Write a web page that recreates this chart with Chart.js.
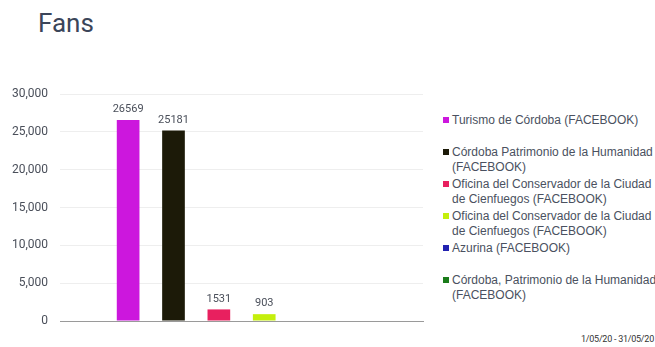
<!DOCTYPE html>
<html>
<head>
<meta charset="utf-8">
<script src="https://cdn.jsdelivr.net/npm/chart.js@4"></script>
<style>
  html, body { margin: 0; padding: 0; background: #fff; overflow: hidden; }
  body { width: 655px; height: 347px; position: relative; font-family: Roboto, sans-serif; }
  #title { position: absolute; left: 38px; top: 8px; font-size: 26px; color: #3b4559; }
  #wrap { position: absolute; left: 0; top: 0; width: 430px; height: 347px; }
  #legend { position: absolute; left: 443px; top: 113px; width: 215px; font-family: "Liberation Sans", Arial, sans-serif; font-size: 12px; color: #4a5160; }
  .item { position: relative; height: 32px; padding-left: 9px; line-height: 15px; white-space: nowrap; }
  .item i { position: absolute; left: 0; top: 4px; width: 6px; height: 6px; }
  #range { position: absolute; left: 581px; top: 334px; font-size: 9px; letter-spacing: -0.25px; color: #333; white-space: nowrap; }
</style>
</head>
<body>
<div id="title">Fans</div>
<div id="wrap"><canvas id="chart"></canvas></div>
<div id="legend"></div>
<div id="range">1/05/20 - 31/05/20</div>
<script>
/* ===== data ===== */
const seriesNames = [
  "Turismo de Córdoba (FACEBOOK)",
  "Córdoba Patrimonio de la Humanidad\n(FACEBOOK)",
  "Oficina del Conservador de la Ciudad\nde Cienfuegos (FACEBOOK)",
  "Oficina del Conservador de la Ciudad\nde Cienfuegos (FACEBOOK)",
  "Azurina (FACEBOOK)",
  "Córdoba, Patrimonio de la Humanidad\n(FACEBOOK)",
];
const fanValues = [26569, 25181, 1531, 903, 0, 0];
const seriesColors = ["#cc17dd", "#1c1a08", "#e8205f", "#c4ef0c", "#2222b0", "#1a7c1a"];
const yTicks = [0, 5000, 10000, 15000, 20000, 25000, 30000];

const tickFont = { family: "Roboto, sans-serif", size: 12 };

/* ===== value labels above bars ===== */
const valueLabels = {
  id: "valueLabels",
  afterDatasetsDraw(chart) {
    const { ctx } = chart;
    ctx.save();
    ctx.font = "11px Roboto, sans-serif";
    ctx.fillStyle = "#4a4f5a";
    ctx.textAlign = "center";
    ctx.textBaseline = "bottom";
    chart.data.datasets.forEach((ds, i) => {
      const v = ds.data[0];
      if (!v) return;
      const bar = chart.getDatasetMeta(i).data[0];
      ctx.fillText(String(v), bar.x, bar.y - 5);
    });
    ctx.restore();
  },
};

new Chart(document.getElementById("chart"), {
  type: "bar",
  data: {
    labels: [""],
    datasets: seriesNames.map((name, i) => ({
      label: name,
      data: [fanValues[i]],
      backgroundColor: seriesColors[i],
      borderWidth: 0,
    })),
  },
  options: {
    responsive: true,
    maintainAspectRatio: false,
    animation: false,
    categoryPercentage: 0.75,
    barPercentage: 0.5,
    layout: { padding: { top: 94, bottom: 18, left: 0, right: 7 } },
    plugins: { legend: { display: false }, tooltip: { enabled: false } },
    scales: {
      x: {
        grid: { display: false },
        border: { color: "#9a9a9a", width: 1 },
        ticks: { display: false },
      },
      y: {
        min: 0,
        max: 30000,
        afterBuildTicks: (axis) => { axis.ticks = yTicks.map(v => ({ value: v })); },
        grid: { color: "#eeeeee", drawTicks: false },
        border: { display: false },
        ticks: {
          font: tickFont,
          color: "#4a4f5a",
          padding: 12,
          callback: v => v.toLocaleString("en-US"),
        },
      },
    },
  },
  plugins: [valueLabels],
});

/* ===== html legend (labels wrap) ===== */
document.getElementById("legend").innerHTML = seriesNames.map((name, i) => `
  <div class="item"><i style="background:${seriesColors[i]}"></i>${name.replace("\n", "<br>")}</div>
`).join("");
</script>
</body>
</html>
